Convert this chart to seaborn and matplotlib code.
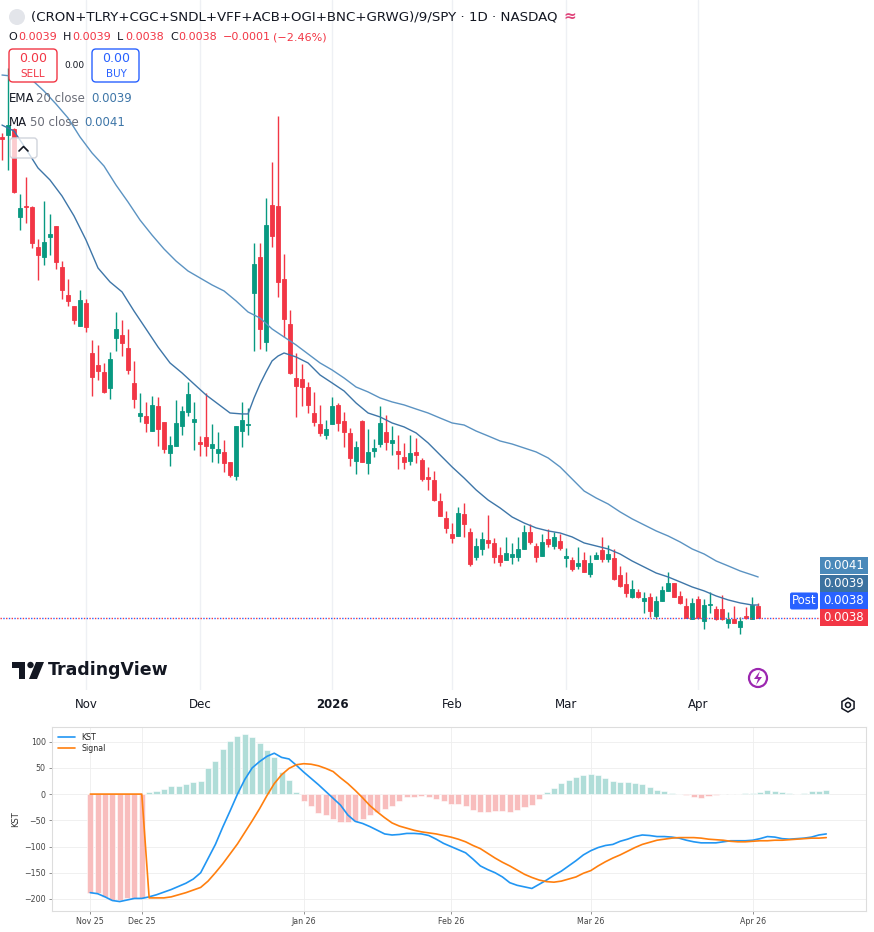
import numpy as np
import pandas as pd
import seaborn as sns
import matplotlib.pyplot as plt
from matplotlib import patches
from matplotlib.lines import Line2D
from matplotlib.transforms import IdentityTransform

# daily candles, prices in units of 1e-4
open_ = [73.20, 73.34, 73.78, 67.34, 68.15, 68.07, 65.15, 64.42, 65.88, 66.68,
         63.68, 61.63, 60.83, 59.37, 61.05, 57.39, 56.51, 56.00, 54.83, 58.49,
         58.71, 57.76, 55.20, 52.78, 52.78, 51.68, 53.51, 52.34, 50.07, 50.59,
         52.05, 53.07, 52.34, 50.88, 51.24, 50.44, 50.07, 50.15, 49.42, 48.39,
         51.68, 52.12, 61.78, 64.42, 58.20, 68.22, 68.15, 62.81, 59.51, 55.56,
         55.49, 54.90, 53.00, 52.20, 51.39, 52.20, 53.59, 52.42, 51.54, 49.49,
         52.42, 49.34, 50.22, 50.73, 51.61, 50.81, 50.22, 49.78, 49.49, 50.15,
         49.56, 48.32, 48.10, 46.56, 45.32, 44.15, 44.00, 45.61, 44.29, 42.46,
         43.05, 43.71, 43.49, 42.61, 42.24, 42.46, 42.46, 43.05, 44.29, 43.27,
         42.54, 43.78, 43.27, 43.63, 42.39, 42.24, 41.81, 42.24, 41.22, 42.32,
         42.98, 42.32, 42.39, 41.15, 40.49, 39.54, 39.90, 39.25, 39.54, 38.15,
         39.25, 39.98, 40.56, 39.61, 38.88, 37.93, 39.39, 37.78, 38.95, 38.66,
         38.66, 37.63, 37.93, 37.34, 38.15, 37.93, 38.88]
high = [73.49, 78.24, 73.85, 69.03, 70.27, 68.15, 65.73, 68.51, 67.56, 66.68,
        64.12, 62.81, 60.83, 62.00, 61.34, 58.34, 57.98, 56.66, 57.46, 60.39,
        59.81, 59.15, 56.81, 54.46, 53.81, 54.24, 54.17, 52.34, 51.32, 53.95,
        53.51, 55.27, 53.81, 51.32, 54.46, 52.20, 51.61, 51.03, 49.42, 52.05,
        53.81, 53.37, 65.44, 65.44, 68.73, 71.37, 74.73, 64.64, 60.54, 57.39,
        56.59, 55.27, 54.54, 53.59, 52.49, 54.17, 53.73, 53.07, 51.90, 50.95,
        52.49, 51.83, 51.10, 53.51, 52.85, 52.05, 51.39, 50.81, 51.39, 51.17,
        49.71, 49.05, 48.76, 47.15, 45.83, 44.95, 46.12, 46.42, 44.59, 43.85,
        44.29, 45.54, 43.85, 43.20, 43.93, 43.49, 43.93, 44.81, 44.88, 43.49,
        44.15, 44.51, 44.29, 44.15, 43.12, 42.46, 43.20, 42.83, 42.61, 42.83,
        43.93, 43.34, 43.05, 41.81, 41.37, 40.78, 40.12, 39.90, 39.83, 39.61,
        40.34, 41.37, 40.56, 39.98, 39.46, 39.46, 39.61, 39.39, 39.90, 38.88,
        39.68, 38.44, 38.88, 38.07, 38.81, 39.54, 39.10]
low = [71.51, 70.78, 69.10, 66.39, 66.90, 65.07, 62.73, 63.83, 64.56, 63.54,
       61.34, 60.83, 59.51, 59.37, 58.93, 54.24, 55.42, 54.46, 54.03, 57.54,
       57.17, 55.85, 53.37, 52.34, 51.61, 51.68, 50.59, 50.07, 49.12, 50.59,
       51.39, 52.78, 50.29, 49.85, 49.85, 49.42, 49.34, 48.68, 48.32, 48.10,
       50.51, 51.39, 57.54, 57.68, 57.54, 65.15, 61.49, 58.56, 55.85, 52.71,
       53.51, 53.00, 52.05, 51.32, 51.10, 52.20, 51.68, 50.51, 49.12, 48.54,
       49.42, 48.54, 49.78, 50.51, 50.29, 49.93, 48.90, 48.90, 49.20, 49.34,
       48.03, 47.37, 46.56, 45.46, 44.22, 43.49, 44.00, 43.93, 41.81, 42.24,
       42.61, 43.12, 42.03, 41.81, 42.24, 41.95, 42.17, 43.05, 43.42, 42.10,
       42.54, 43.20, 43.05, 42.98, 41.73, 41.44, 41.59, 41.37, 41.00, 42.32,
       42.10, 42.10, 40.78, 40.27, 39.54, 39.46, 39.46, 38.37, 38.07, 37.93,
       39.25, 39.98, 39.54, 39.03, 38.00, 37.93, 37.93, 37.20, 38.37, 37.85,
       37.85, 37.27, 37.63, 36.83, 37.93, 37.93, 38.00]
close = [73.05, 74.07, 69.17, 68.00, 68.07, 65.44, 64.56, 65.51, 66.10, 64.05,
         62.00, 61.20, 59.81, 61.27, 59.29, 55.64, 56.07, 54.54, 56.95, 59.15,
         58.12, 56.15, 54.03, 53.00, 52.27, 53.59, 51.83, 50.37, 50.66, 52.27,
         53.15, 54.39, 52.56, 50.73, 50.59, 50.73, 50.37, 49.34, 48.46, 52.05,
         52.49, 52.20, 63.90, 59.15, 66.76, 65.95, 62.59, 59.88, 55.93, 54.98,
         54.90, 53.59, 52.34, 51.54, 51.83, 53.51, 52.27, 51.61, 49.71, 50.51,
         49.42, 50.15, 50.44, 52.27, 50.88, 51.03, 50.00, 49.42, 50.07, 49.93,
         48.17, 48.17, 46.63, 45.46, 44.59, 43.85, 45.68, 44.88, 41.95, 43.27,
         43.78, 43.49, 42.46, 42.10, 42.76, 42.68, 43.05, 44.29, 43.56, 42.46,
         43.56, 43.42, 43.93, 43.12, 42.54, 41.59, 42.03, 41.37, 42.03, 42.61,
         42.32, 42.68, 40.85, 40.34, 39.83, 40.12, 39.54, 39.46, 38.51, 39.25,
         40.05, 40.56, 39.54, 39.10, 38.00, 39.10, 38.00, 38.95, 39.03, 37.93,
         37.93, 37.93, 37.63, 37.78, 38.00, 38.95, 38.00]

# moving averages (candle index, price x 1e-4)
ema_idx = list(range(0, 41, 2)) + [41, 42, 43, 44, 45, 46, 47] + list(range(49, 126, 2)) + [126]
ema_vals = [74.07, 73.63, 72.32, 70.93, 70.05, 68.88, 67.42, 65.66, 63.61, 62.59,
            61.86, 60.46, 59.15, 57.83, 56.66, 55.93, 55.12, 54.32, 53.66, 53.00,
            52.93,
            52.93, 54.10, 55.12, 56.00, 56.81, 57.17, 57.39,
            57.10, 56.66, 55.78, 55.20, 54.61, 53.73, 53.00, 52.71, 52.27, 51.98,
            51.54, 50.81, 49.93, 49.05, 48.24, 47.37, 46.63, 46.05, 45.39, 44.95,
            44.59, 44.37, 44.22, 43.93, 43.49, 43.27, 43.05, 42.68, 42.17, 41.73,
            41.29, 41.00, 40.64, 40.27, 39.98, 39.61, 39.32, 39.10, 38.95,
            38.95]
ma_idx = [0, 3] + list(range(5, 126, 2)) + [126]
ma_vals = [77.73, 77.59, 77.37, 76.56, 75.61, 74.59, 73.20, 72.03, 71.07, 69.68,
           68.44, 67.12, 66.02, 65.00, 64.12, 63.39, 62.88, 62.37, 61.93, 61.20,
           60.39, 59.95, 59.15, 58.56, 57.98, 57.32, 56.66, 56.15, 55.56, 54.90,
           54.54, 54.10, 53.81, 53.59, 53.29, 53.00, 52.63, 52.27, 52.12, 51.68,
           51.32, 50.95, 50.73, 50.44, 50.15, 49.71, 49.05, 48.17, 47.29, 46.78,
           46.34, 45.76, 45.25, 44.81, 44.37, 44.00, 43.56, 43.05, 42.68, 42.17,
           41.81, 41.44, 41.15, 41.00]

# KST panel (last 101 sessions)
kst = [-188, -190, -196, -203, -205, -202, -199, -199, -196, -192,
       -187, -182, -176, -170, -162, -150, -123, -96, -63, -32,
       0, 28, 50, 62, 72, 78, 70, 67, 55, 42,
       30, 18, 5, -8, -21, -40, -52, -56, -62, -69,
       -76, -78, -77, -75, -75, -76, -79, -86, -94, -100,
       -106, -112, -124, -137, -144, -150, -158, -169, -174, -177,
       -180, -172, -164, -155, -147, -137, -127, -116, -108, -102,
       -98, -96, -90, -86, -81, -78, -79, -81, -81, -82,
       -84, -88, -91, -93, -93, -93, -91, -89, -89, -89,
       -88, -85, -81, -82, -85, -86, -85, -84, -82, -78,
       -76]
signal = [0, 0, 0, 0, 0, 0, 0, 0, -198, -198,
          -198, -196, -192, -188, -183, -178, -166, -150, -133, -114,
          -95, -73, -51, -28, -3, 20, 37, 49, 56, 58,
          57, 54, 49, 43, 31, 20, 7, -7, -22, -34,
          -45, -55, -61, -65, -69, -72, -74, -76, -79, -82,
          -86, -91, -98, -104, -113, -122, -130, -137, -145, -153,
          -159, -164, -167, -168, -166, -162, -158, -151, -146, -137,
          -129, -122, -116, -109, -102, -96, -92, -88, -86, -84,
          -83, -83, -83, -84, -86, -87, -88, -90, -91, -91,
          -90, -89, -89, -88, -88, -87, -86, -85, -84, -84,
          -83]
hist = [-188, -189, -196, -202, -202, -199, -199, -199, 4, 6,
        10, 15, 16, 20, 23, 25, 50, 63, 86, 102,
        110, 114, 109, 98, 84, 70, 42, 27, 4, -13,
        -22, -36, -40, -47, -54, -54, -52, -47, -40, -34,
        -28, -22, -14, -6, -5, -3, -5, -10, -13, -18,
        -19, -22, -30, -34, -34, -32, -33, -34, -30, -24,
        -21, -10, 4, 12, 22, 27, 33, 37, 39, 36,
        31, 25, 24, 23, 21, 20, 14, 8, 5, 2,
        0.5, -2, -5, -7, -4, -2, 0.3, 0.3, 0.5, 2,
        2, 4, 8, 6, 4, 3, 0.5, 2, 5, 6,
        8]

holidays = ['2025-11-27', '2025-12-25', '2026-01-01', '2026-01-19', '2026-02-16', '2026-04-03']
dates = pd.bdate_range('2025-10-14', '2026-04-16')
dates = dates[~dates.isin(pd.to_datetime(holidays))]
kst_dates = dates[-len(kst):]

sns.set_theme(style='whitegrid')
plt.rcParams['font.family'] = ['DejaVu Sans']

W, H = 874, 932
fig = plt.figure(figsize=(W / 100, H / 100), dpi=100)

INK = '#131722'
UP = '#089981'
DOWN = '#f23645'
BLUE = '#2962ff'
EMA_C = '#3e76a8'
MA_C = '#5b93c2'


def ptext(x, y, s, **kw):
    kw.setdefault('va', 'center')
    kw.setdefault('color', INK)
    return fig.text(x, H - y, s, transform=IdentityTransform(), **kw)


def padd(p):
    p.set_transform(IdentityTransform())
    fig.add_artist(p)


# ---------------- price chart ----------------
ax = fig.add_axes([0, 1 - 690 / H, 820 / W, 690 / H])
o = np.array(open_) / 1e4
h = np.array(high) / 1e4
l = np.array(low) / 1e4
c = np.array(close) / 1e4
x = np.arange(len(o))
cols = np.where(c >= o, UP, DOWN)

ax.vlines(x, l, h, colors=cols, linewidth=1)
ax.bar(x, np.abs(c - o), bottom=np.minimum(o, c), width=0.72,
       color=cols, edgecolor=cols, linewidth=0.6)
sns.lineplot(x=ma_idx, y=np.array(ma_vals) / 1e4, ax=ax, color=MA_C, linewidth=1)
sns.lineplot(x=ema_idx, y=np.array(ema_vals) / 1e4, ax=ax, color=EMA_C, linewidth=1)

ax.axhline(c[-1], color=DOWN, lw=1, ls=(0, (1, 3)))
ax.axhline(c[-1], color=BLUE, lw=1, ls=(2, (1, 3)))

ax.set_xlim(-0.33, 136.3)
ax.set_ylim(32.73e-4, 83.22e-4)
for s in ax.spines.values():
    s.set_visible(False)
ax.grid(False)
ax.grid(axis='x', color='#eef0f4', lw=1)
ax.set_yticks([])
first = [i for i in range(1, len(dates)) if dates[i].month != dates[i - 1].month]
ax.set_xticks(first)
ax.set_xticklabels([str(dates[i].year) if dates[i].month == 1 else dates[i].strftime('%b')
                    for i in first])
ax.tick_params(axis='x', length=0, pad=6, labelsize=8.5, labelcolor=INK)
for lbl in ax.get_xticklabels():
    if lbl.get_text().isdigit():
        lbl.set_fontweight('bold')
ax.set_xlabel('')
ax.set_ylabel('')

# price tags on the right scale
yc = H - ax.transData.transform((0, c[-1]))[1]
tags = [(0, f'{c[-1]:.4f}', DOWN), (17, f'{c[-1]:.4f}', BLUE),
        (34, f'{ema_vals[-1] / 1e4:.4f}', '#3c72a0'), (52, f'{ma_vals[-1] / 1e4:.4f}', '#4a89ba')]
for off, s, fc in tags:
    padd(patches.Rectangle((820, H - (yc - off) - 8.5), 48, 17, fc=fc, ec='none'))
    ptext(844, yc - off, s, ha='center', color='white', fontsize=8.5)
padd(patches.FancyBboxPatch((790, H - (yc - 17) - 8.5), 28, 17,
                            boxstyle='round,pad=0,rounding_size=2', fc=BLUE, ec='none'))
ptext(804, yc - 17, 'Post', ha='center', color='white', fontsize=8.5)

# header
padd(patches.Circle((17, H - 17), 8, fc='#e3e5ea', ec='none'))
ptext(31, 17, '(CRON+TLRY+CGC+SNDL+VFF+ACB+OGI+BNC+GRWG)/9/SPY · 1D · NASDAQ', fontsize=9.6)
ptext(570, 16, '≈', ha='center', color='#e0457b', fontsize=11, fontweight='bold')

ohlc = [('O', 8, INK), ('0.0039', 18, DOWN), ('H', 63, INK), ('0.0039', 72, DOWN),
        ('L', 117, INK), ('0.0038', 125, DOWN), ('C', 170, INK), ('0.0038', 178, DOWN),
        ('−0.0001', 223, DOWN), ('(−2.46%)', 273, DOWN)]
for s, xx, col in ohlc:
    ptext(xx, 37, s, color=col, fontsize=8)

padd(patches.FancyBboxPatch((9, H - 82), 48, 33, boxstyle='round,pad=0,rounding_size=4',
                            fc='white', ec=DOWN, lw=1))
padd(patches.FancyBboxPatch((92, H - 82), 47, 33, boxstyle='round,pad=0,rounding_size=4',
                            fc='white', ec=BLUE, lw=1))
ptext(33, 58, '0.00', ha='center', color=DOWN, fontsize=9)
ptext(33, 74, 'SELL', ha='center', color=DOWN, fontsize=7.5)
ptext(74, 66, '0.00', ha='center', fontsize=6.5)
ptext(116, 58, '0.00', ha='center', color=BLUE, fontsize=9)
ptext(116, 74, 'BUY', ha='center', color=BLUE, fontsize=7.5)

ptext(9, 99, 'EMA', fontsize=8.5)
ptext(36, 99, '20 close', fontsize=8.5, color='#6a6d78')
ptext(91, 99, '0.0039', fontsize=8.5, color=EMA_C)
ptext(9, 123, 'MA', fontsize=8.5)
ptext(30, 123, '50 close', fontsize=8.5, color='#6a6d78')
ptext(84, 123, '0.0041', fontsize=8.5, color=EMA_C)

padd(patches.FancyBboxPatch((10, H - 158), 27, 20, boxstyle='round,pad=0,rounding_size=3',
                            fc=(1, 1, 1, 0.75), ec='#d1d4dc', lw=1))
padd(Line2D([19, 23.5, 28], [H - 151, H - 146.5, H - 151], color=INK, lw=1.2))

# footer of the price chart
padd(patches.Polygon([(12, H - 662), (25, H - 662), (25, H - 679), (19, H - 679),
                      (19, H - 668), (12, H - 668)], fc=INK, ec='none'))
padd(patches.Circle((30.5, H - 665), 3.2, fc=INK, ec='none'))
padd(patches.Polygon([(36, H - 662), (44, H - 662), (37, H - 679), (29, H - 679)], fc=INK, ec='none'))
ptext(48, 670, 'TradingView', fontsize=12.5, fontweight='bold')

padd(patches.Circle((758, H - 678), 9, fc='none', ec='#9c27b0', lw=1.6))
padd(patches.Polygon([(760, H - 671), (754, H - 679), (758, H - 679), (756, H - 685),
                      (762, H - 677), (758, H - 677)], fc='#9c27b0', ec='none'))
padd(patches.RegularPolygon((848, H - 705), 6, radius=7, fc='none', ec=INK, lw=1.1))
padd(patches.Circle((848, H - 705), 2.5, fc='none', ec=INK, lw=1.1))

# ---------------- KST panel ----------------
ax2 = fig.add_axes([52 / W, 1 - 911 / H, 814 / W, 184 / H])
xk = np.arange(len(kst))
hcol = np.where(np.array(hist) >= 0, '#b0ddd8', '#f8bdbd')
ax2.bar(xk, hist, width=0.82, color=hcol, edgecolor='white', linewidth=0.4)
sns.lineplot(x=xk, y=kst, ax=ax2, color='#2196f3', linewidth=1.2, label='KST')
sns.lineplot(x=xk, y=signal, ax=ax2, color='#ff7f0e', linewidth=1.2, label='Signal')

ax2.set_xlim(-5.2, 105.4)
ax2.set_ylim(-223, 128)
ax2.set_yticks([-200, -150, -100, -50, 0, 50, 100])
kfirst = [0] + [i for i in range(1, len(kst_dates)) if kst_dates[i].month != kst_dates[i - 1].month]
ax2.set_xticks(kfirst)
ax2.set_xticklabels([kst_dates[i].strftime('%b %y') for i in kfirst])
ax2.tick_params(labelsize=5.7, labelcolor='#444444', length=2.5, width=0.5,
                color='#666666', pad=2, bottom=True, left=True)
ax2.grid(color='#eeeeee', lw=0.6)
for s in ax2.spines.values():
    s.set_color('#dddddd')
    s.set_linewidth(0.8)
ax2.set_ylabel('KST', fontsize=6, color='#333333', labelpad=3)
ax2.set_xlabel('')
ax2.legend(loc='upper left', fontsize=5.7, frameon=False, handlelength=2.2,
           borderaxespad=0.3, labelspacing=0.3)

fig.savefig('out.png', dpi=100)
